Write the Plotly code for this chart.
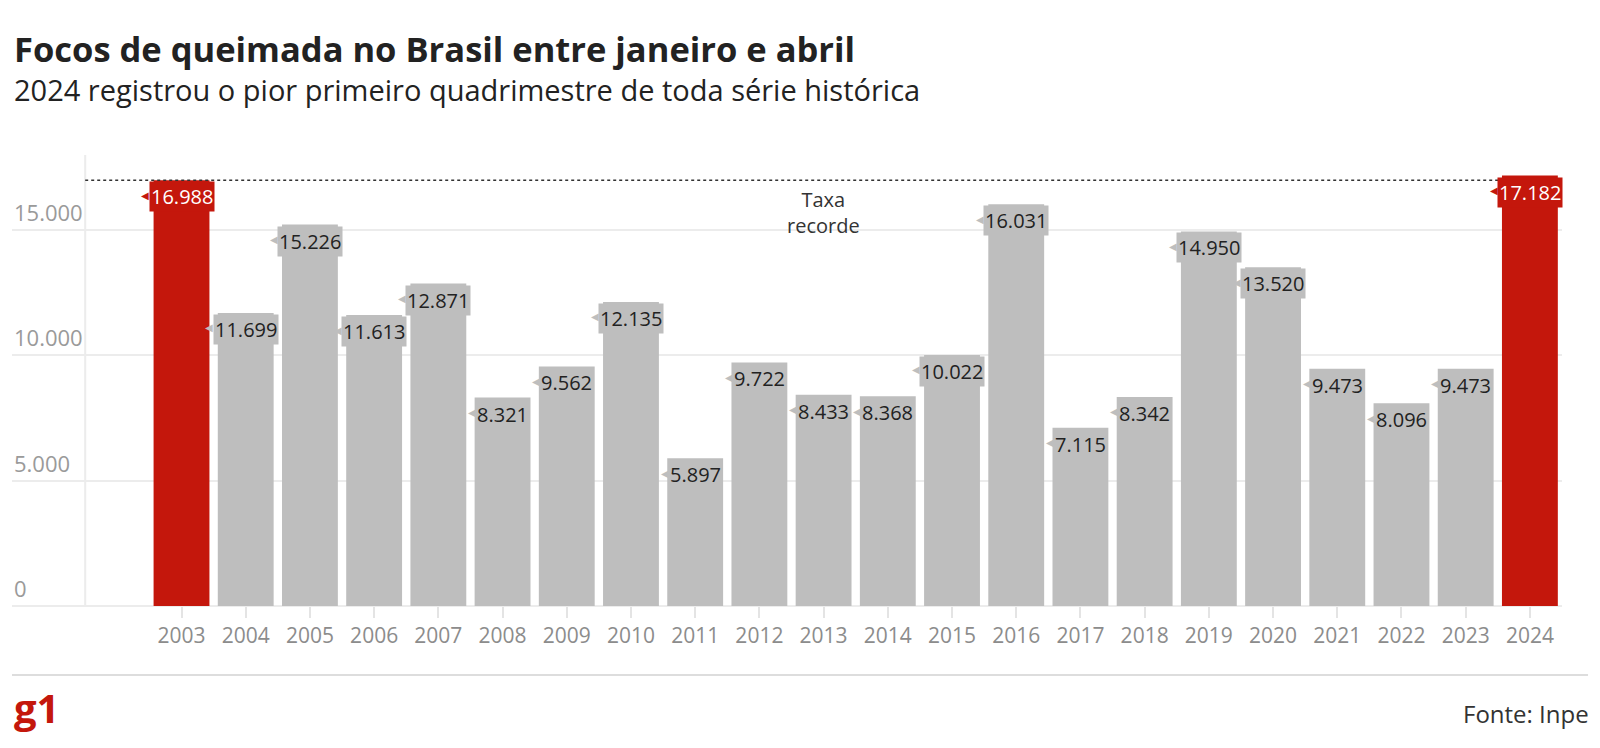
import plotly.graph_objects as go

# Focos de queimada, jan-abr, por ano (Inpe)
years = list(range(2003, 2025))
focos = [16988, 11699, 15226, 11613, 12871, 8321, 9562, 12135, 5897, 9722, 8433,
         8368, 10022, 16031, 7115, 8342, 14950, 13520, 9473, 8096, 9473, 17182]
record_years = [2003, 2024]
y_ticks = [0, 5000, 10000, 15000]
y_tick_labels = ["0", "5.000", "10.000", "15.000"]

RED = "#c4170c"
GRAY = "#bebebe"
GRID = "#ececec"
FONT = "Open Sans"
BAR_W = 0.87


def fmt(v):
    return f"{v:,}".replace(",", ".")


bar_colors = [RED if y in record_years else GRAY for y in years]

fig = go.Figure(go.Bar(
    x=years,
    y=focos,
    marker=dict(color=bar_colors, line=dict(width=0)),
    width=BAR_W,
    hoverinfo="skip",
))

# data labels: box in the bar colour at the top of each bar, with a little notch on the left
for yr, v, c in zip(years, focos, bar_colors):
    lab = fmt(v)
    fig.add_annotation(
        x=yr, y=v, xref="x", yref="y",
        text=lab, showarrow=False,
        xanchor="center", yanchor="top", yshift=-1,
        bgcolor=c, borderpad=1,
        font=dict(family=FONT, size=20, color="white" if c == RED else "#222222"),
    )
    # approx half width of the label box (digits ~11.4px, dot ~5.3px at 20px)
    half = ((len(lab) - 1) * 11.44 + 5.3) / 2 + 1
    fig.add_annotation(
        x=yr, y=v, xref="x", yref="y",
        text="◀", showarrow=False,
        xanchor="right", yanchor="middle", xshift=-half + 2, yshift=-15,
        font=dict(family="DejaVu Sans", size=10, color=c),
    )

# y tick labels, left aligned above the grid lines
for t, lab in zip(y_ticks, y_tick_labels):
    fig.add_annotation(
        x=0, y=t, xref="paper", yref="y",
        text=lab, showarrow=False,
        xanchor="left", yanchor="bottom", yshift=1,
        font=dict(family=FONT, size=22, color="#9a9a9a"),
    )

# previous record line
prev_record = focos[0]
fig.add_shape(type="line", xref="x", yref="y", x0=2001.5, x1=years[-1] + BAR_W / 2,
              y0=prev_record, y1=prev_record,
              line=dict(color="#333333", width=1.5, dash="dot"), layer="above")
fig.add_annotation(x=2013, y=prev_record, xref="x", yref="y",
                   text="Taxa<br>recorde", showarrow=False,
                   xanchor="center", yanchor="top", yshift=-4,
                   font=dict(family=FONT, size=20, color="#333333"))

# vertical axis line left of the bars
fig.add_shape(type="line", xref="x", yref="paper", x0=2001.5, x1=2001.5, y0=0, y1=1,
              line=dict(color=GRID, width=2), layer="below")

# footer
fig.add_shape(type="line", xref="paper", yref="paper", x0=0, x1=1.0168, y0=-0.153, y1=-0.153,
              line=dict(color="#dddddd", width=2))
fig.add_annotation(x=0, y=-0.224, xref="paper", yref="paper", text="<b>g1</b>",
                   showarrow=False, xanchor="left", yanchor="middle",
                   font=dict(family=FONT, size=40, color=RED))
fig.add_annotation(x=1.019, y=-0.239, xref="paper", yref="paper", text="Fonte: Inpe",
                   showarrow=False, xanchor="right", yanchor="middle",
                   font=dict(family=FONT, size=24, color="#333333"))

# title + subtitle
fig.add_annotation(x=0, y=1.236, xref="paper", yref="paper",
                   text="<b>Focos de queimada no Brasil entre janeiro e abril</b>",
                   showarrow=False, xanchor="left", yanchor="middle",
                   font=dict(family=FONT, size=34.5, color="#222222"))
fig.add_annotation(x=0, y=1.146, xref="paper", yref="paper",
                   text="2024 registrou o pior primeiro quadrimestre de toda série histórica",
                   showarrow=False, xanchor="left", yanchor="middle",
                   font=dict(family=FONT, size=29, color="#222222"))

fig.update_layout(
    width=1600, height=748,
    margin=dict(l=12, r=38, t=155, b=142, autoexpand=False),
    paper_bgcolor="white",
    plot_bgcolor="white",
    showlegend=False,
    xaxis=dict(
        range=[2000.36, 2024.5],
        tickvals=years, ticktext=[str(y) for y in years],
        showgrid=False, zeroline=False, showline=False,
        ticks="outside", ticklen=11, tickwidth=2, tickcolor="#e4e4e4",
        tickfont=dict(family=FONT, size=21, color="#8c8c8c"),
        fixedrange=True,
    ),
    yaxis=dict(
        range=[0, 18000],
        tickvals=y_ticks, showticklabels=False,
        showgrid=True, gridcolor=GRID, gridwidth=2,
        zeroline=True, zerolinecolor=GRID, zerolinewidth=2,
        fixedrange=True,
    ),
)

# drop the default 8px body margin so the 1600x748 figure fills the window exactly
fig.write_html("out.html", config={"displayModeBar": False},
               post_script="document.body.style.margin='0';")
